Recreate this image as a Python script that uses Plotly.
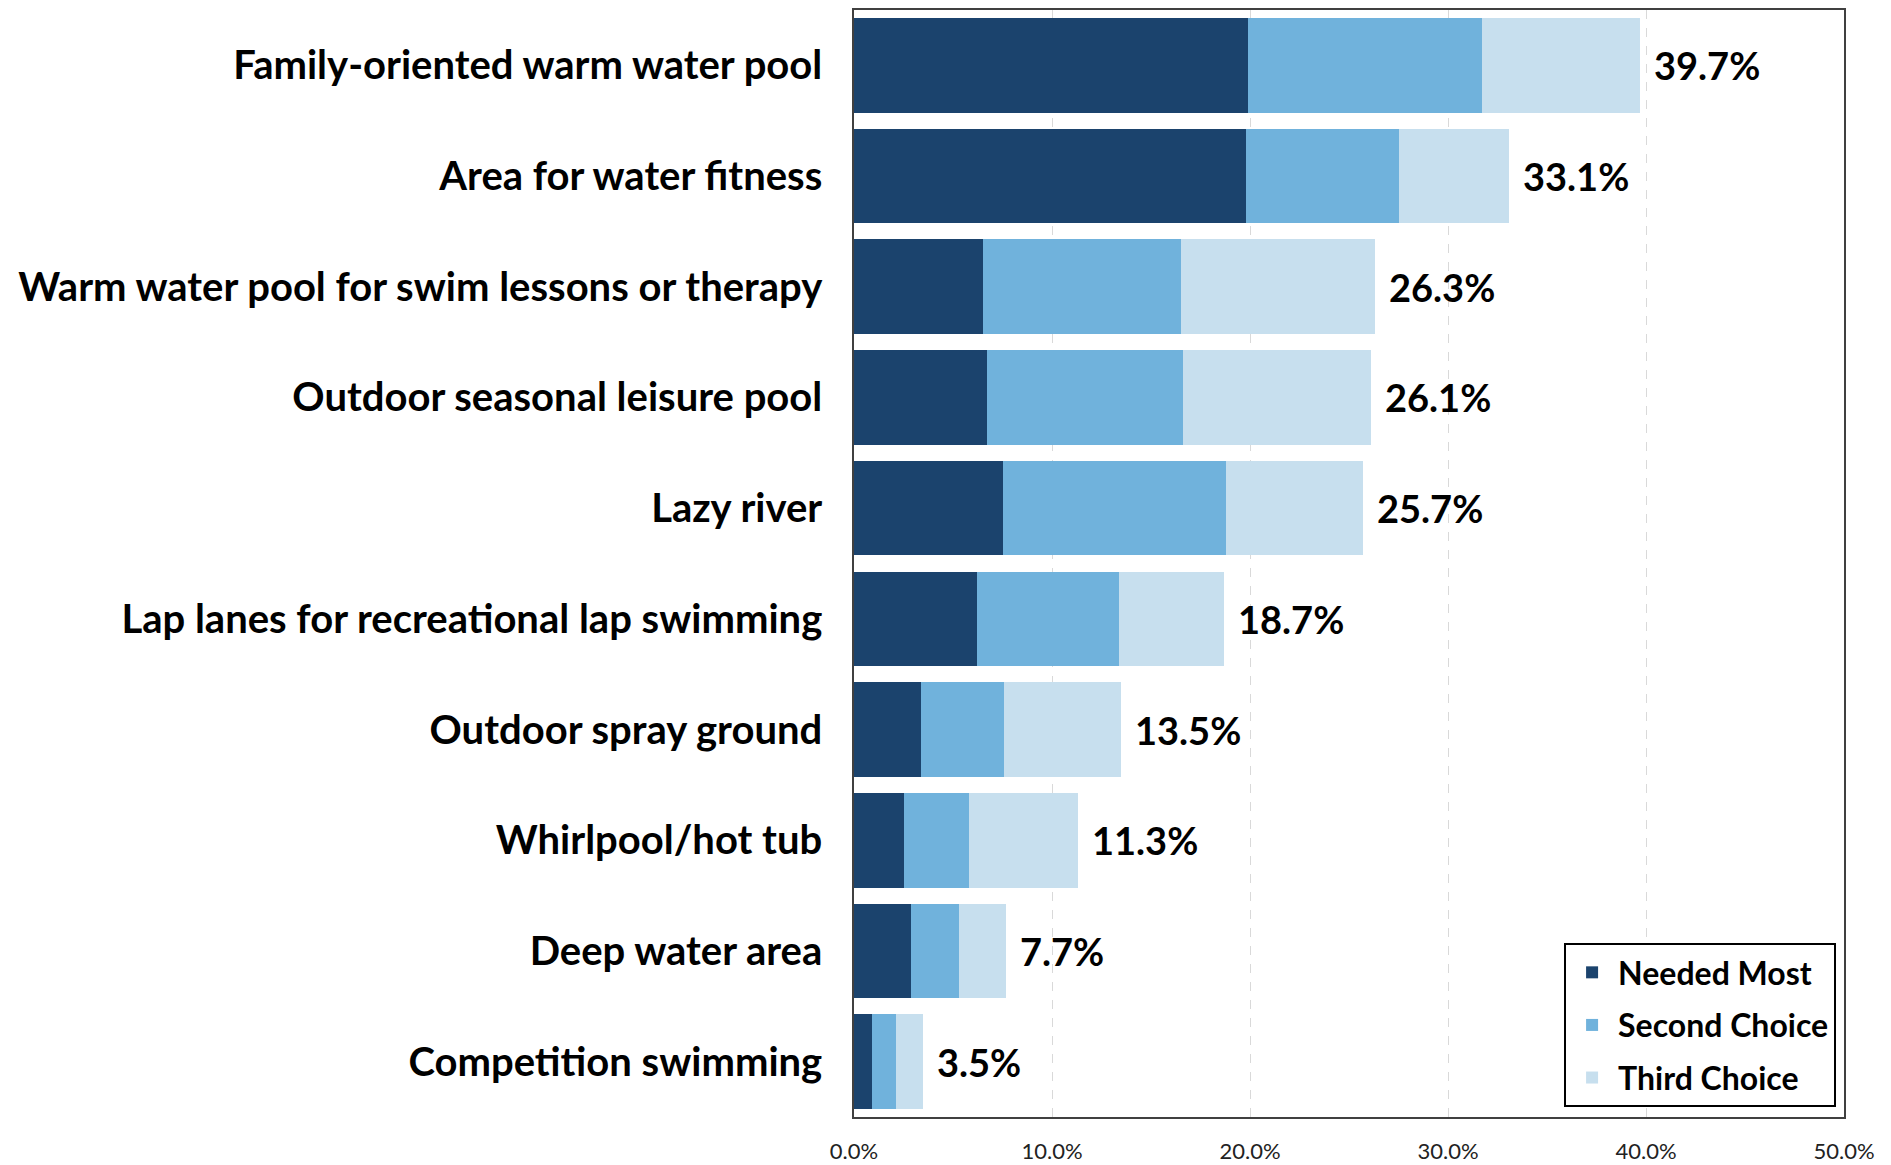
import plotly.graph_objects as go

categories = [
    "Family-oriented warm water pool",
    "Area for water fitness",
    "Warm water pool for swim lessons or therapy",
    "Outdoor seasonal leisure pool",
    "Lazy river",
    "Lap lanes for recreational lap swimming",
    "Outdoor spray ground",
    "Whirlpool/hot tub",
    "Deep water area",
    "Competition swimming",
]
needed_most = [19.9, 19.8, 6.5, 6.7, 7.5, 6.2, 3.4, 2.5, 2.9, 0.9]
second_choice = [11.8, 7.7, 10.0, 9.9, 11.3, 7.2, 4.2, 3.3, 2.4, 1.2]
third_choice = [8.0, 5.6, 9.8, 9.5, 6.9, 5.3, 5.9, 5.5, 2.4, 1.4]
totals = [39.7, 33.1, 26.3, 26.1, 25.7, 18.7, 13.5, 11.3, 7.7, 3.5]
tick_vals = [0, 10, 20, 30, 40, 50]
tick_labels = ["0.0%", "10.0%", "20.0%", "30.0%", "40.0%", "50.0%"]

series = [
    ("Needed Most", needed_most, "#1B436D"),
    ("Second Choice", second_choice, "#70B2DC"),
    ("Third Choice", third_choice, "#C7DFEE"),
]

FONT = "Lato, 'Open Sans', sans-serif"

fig = go.Figure()
for name, vals, color in series:
    fig.add_trace(go.Bar(
        y=categories, x=vals, name=name, orientation="h",
        marker=dict(color=color, line=dict(width=0)),
        legendgroup=name,
    ))

for cat, tot in zip(categories, totals):
    fig.add_annotation(
        x=tot, y=cat, xref="x", yref="y",
        text=f"<b>{tot:.1f}%</b>", showarrow=False,
        xanchor="left", xshift=12,
        font=dict(family=FONT, size=38, color="#000000"),
    )

fig.update_layout(
    width=1883, height=1157,
    barmode="stack", bargap=0.145,
    paper_bgcolor="white", plot_bgcolor="white",
    margin=dict(l=846, r=47, t=0, b=48, pad=0),
    font=dict(family=FONT, color="#000000"),
    legend=dict(
        x=0.992, y=0.009, xanchor="right", yanchor="bottom",
        bgcolor="white", bordercolor="#000000", borderwidth=2,
        font=dict(family=FONT, size=32, color="#000000", weight="bold"),
        traceorder="grouped", tracegroupgap=8, itemwidth=42,
    ),
    showlegend=True,
)
fig.update_xaxes(
    range=[0, 50], tickvals=tick_vals, ticktext=tick_labels,
    showgrid=True, gridcolor="#D9D9D9", griddash="dash", gridwidth=1,
    showline=True, mirror=True, linecolor="#404040", linewidth=1.5,
    zeroline=False, ticks="", ticklabelstandoff=14,
    tickfont=dict(family=FONT, size=22, color="#222222"),
)
fig.update_yaxes(
    categoryorder="array", categoryarray=categories, autorange="reversed",
    showline=True, mirror=True, linecolor="#404040", linewidth=1.5,
    showgrid=False, ticks="", ticklabelstandoff=22,
    tickfont=dict(family=FONT, size=40, color="#000000", weight="bold"),
)

fig.write_html("out.html")
